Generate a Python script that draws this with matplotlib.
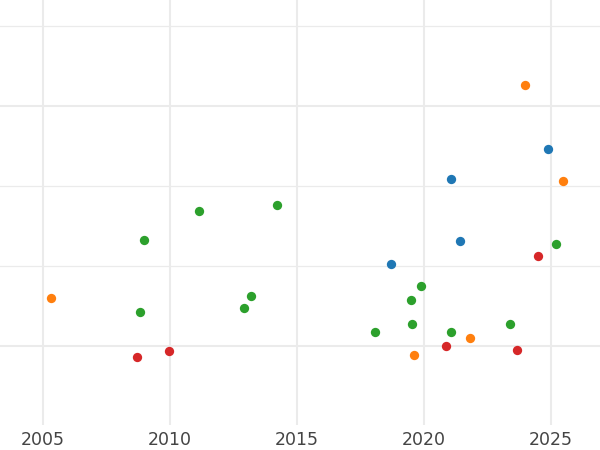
import matplotlib
matplotlib.use("Agg")
import matplotlib.pyplot as plt
from matplotlib.ticker import MultipleLocator

# data: year vs. value, one list pair per group
blue_x = [2024.88, 2021.06, 2021.42, 2018.70]
blue_y = [2.46, 2.09, 1.31, 1.03]

orange_x = [2023.96, 2025.47, 2005.30, 2021.82, 2019.61]
orange_y = [3.26, 2.07, 0.60, 0.10, -0.11]

green_x = [2011.14, 2014.21, 2008.96, 2025.18, 2019.87, 2013.18, 2019.49,
           2008.83, 2012.91, 2018.08, 2019.51, 2021.08, 2023.37]
green_y = [1.69, 1.76, 1.33, 1.28, 0.75, 0.62, 0.58,
           0.43, 0.48, 0.17, 0.28, 0.17, 0.28]

red_x = [2024.48, 2020.85, 2023.67, 2009.96, 2008.71]
red_y = [1.13, 0.0, -0.05, -0.06, -0.14]

groups = [
    (blue_x, blue_y, "#1f77b4"),
    (orange_x, orange_y, "#ff7f0e"),
    (green_x, green_y, "#2ca02c"),
    (red_x, red_y, "#d62728"),
]

fig = plt.figure(figsize=(6, 4.5), dpi=100)
ax = fig.add_axes([0, 25 / 450, 1, 425 / 450])

for xs, ys, color in groups:
    ax.scatter(xs, ys, s=45, color=color, linewidths=0, zorder=3)

ax.set_xlim(2003.31, 2026.93)
ax.set_ylim(-0.99, 4.33)

ax.xaxis.set_major_locator(MultipleLocator(5))
ax.yaxis.set_major_locator(MultipleLocator(3))
ax.yaxis.set_minor_locator(MultipleLocator(1))

ax.grid(True, which="major", color="#ebebeb", linewidth=1.5)
ax.grid(True, which="minor", axis="y", color="#ebebeb", linewidth=0.9)
ax.set_axisbelow(True)

for spine in ax.spines.values():
    spine.set_visible(False)

ax.tick_params(axis="x", length=0, labelsize=12.5, labelcolor="#444444", pad=4)
ax.tick_params(axis="y", which="both", length=0, labelleft=False)

fig.savefig("out.png", dpi=100)
